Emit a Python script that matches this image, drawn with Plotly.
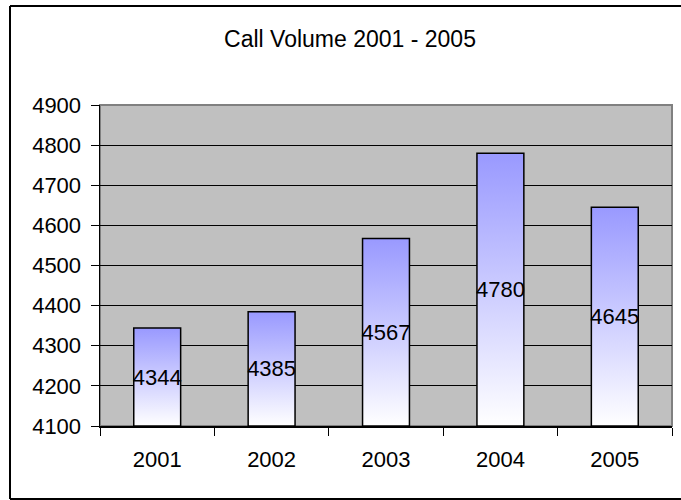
import plotly.graph_objects as go

# ---- data ----
YEARS = ["2001", "2002", "2003", "2004", "2005"]
CALLS = [4344, 4385, 4567, 4780, 4645]
TITLE = "Call Volume 2001 - 2005"
Y_MIN, Y_MAX, Y_STEP = 4100, 4900, 100

FONT = "Liberation Sans, Arial, sans-serif"
BAR_W = 0.41
TOP_COLOR = "#9999FF"

W, H = 681, 500
L, R, T, B = 100, 9, 105, 74
PW, PH = W - L - R, H - T - B

fig = go.Figure()

# gradient fills (one per bar), positioned on a linear copy of the category axis
for i, v in enumerate(CALLS):
    x0, x1 = i - BAR_W / 2, i + BAR_W / 2
    fig.add_trace(go.Scatter(
        x=[x0, x1, x1, x0, x0], y=[Y_MIN, Y_MIN, v, v, Y_MIN],
        mode="lines", fill="toself", line=dict(width=0),
        fillgradient=dict(type="vertical", start=Y_MIN, stop=v,
                          colorscale=[[0, "#FFFFFF"], [1, TOP_COLOR]]),
        hoverinfo="skip", showlegend=False, xaxis="x", yaxis="y",
    ))

# bars (outline + labels) on the category axis, starting at the axis floor
fig.add_trace(go.Bar(
    x=YEARS, y=[v - Y_MIN for v in CALLS], base=Y_MIN, width=BAR_W,
    marker=dict(color="rgba(0,0,0,0)", line=dict(color="black", width=1.5)),
    text=[str(v) for v in CALLS], textposition="inside",
    insidetextanchor="middle", constraintext="none", textangle=0,
    insidetextfont=dict(family=FONT, size=22, color="black"),
    cliponaxis=False, hoverinfo="skip",
    showlegend=False, xaxis="x2", yaxis="y",
))

# outer chart frame: left, top and bottom edges (the right edge lies off-page)
bx0, bx1 = (10 - L) / PW, (W + 2 - L) / PW
by0, by1 = -(499 - (T + PH)) / PH, (T + PH - 6) / PH
edge = dict(type="line", xref="paper", yref="paper",
            line=dict(color="black", width=2), layer="above")
frame = [
    dict(edge, x0=bx0, x1=bx0, y0=by0, y1=by1),
    dict(edge, x0=bx0, x1=bx1, y0=by1, y1=by1),
    dict(edge, x0=bx0, x1=bx1, y0=by0, y1=by0),
]

fig.update_layout(
    width=W, height=H,
    margin=dict(l=L, r=R, t=T, b=B, autoexpand=False),
    paper_bgcolor="white", plot_bgcolor="#C0C0C0",
    font=dict(family=FONT, size=22, color="black"),
    title=dict(text=TITLE, xref="container", x=350 / W, xanchor="center",
               yref="container", y=1 - 39 / H, yanchor="middle",
               font=dict(family=FONT, size=23, color="black")),
    xaxis=dict(range=[-0.5, len(YEARS) - 0.5], visible=False, fixedrange=True),
    xaxis2=dict(type="category", overlaying="x", anchor="y", side="bottom",
                range=[-0.5, len(YEARS) - 0.5], tickson="boundaries",
                ticks="outside", ticklen=8, tickwidth=1, tickcolor="black",
                showline=True, linecolor="black", linewidth=1.5,
                showgrid=False, tickfont=dict(size=22), ticklabelstandoff=13),
    yaxis=dict(range=[Y_MIN, Y_MAX], dtick=Y_STEP, tick0=Y_MIN,
               ticks="outside", ticklen=8, tickwidth=1, tickcolor="black",
               showline=True, linecolor="black", linewidth=1.5,
               showgrid=True, gridcolor="black", gridwidth=1,
               zeroline=False, tickfont=dict(size=22), ticklabelstandoff=5),
    shapes=[
        dict(type="rect", xref="paper", yref="paper", x0=0, x1=1, y0=0, y1=1,
             line=dict(color="#808080", width=2), layer="below"),
        *frame,
    ],
    hovermode=False,
)

fig.write_html("out.html",
               config={"displayModeBar": False, "staticPlot": True},
               post_script="document.body.style.margin='0';document.body.style.overflow='hidden';")
